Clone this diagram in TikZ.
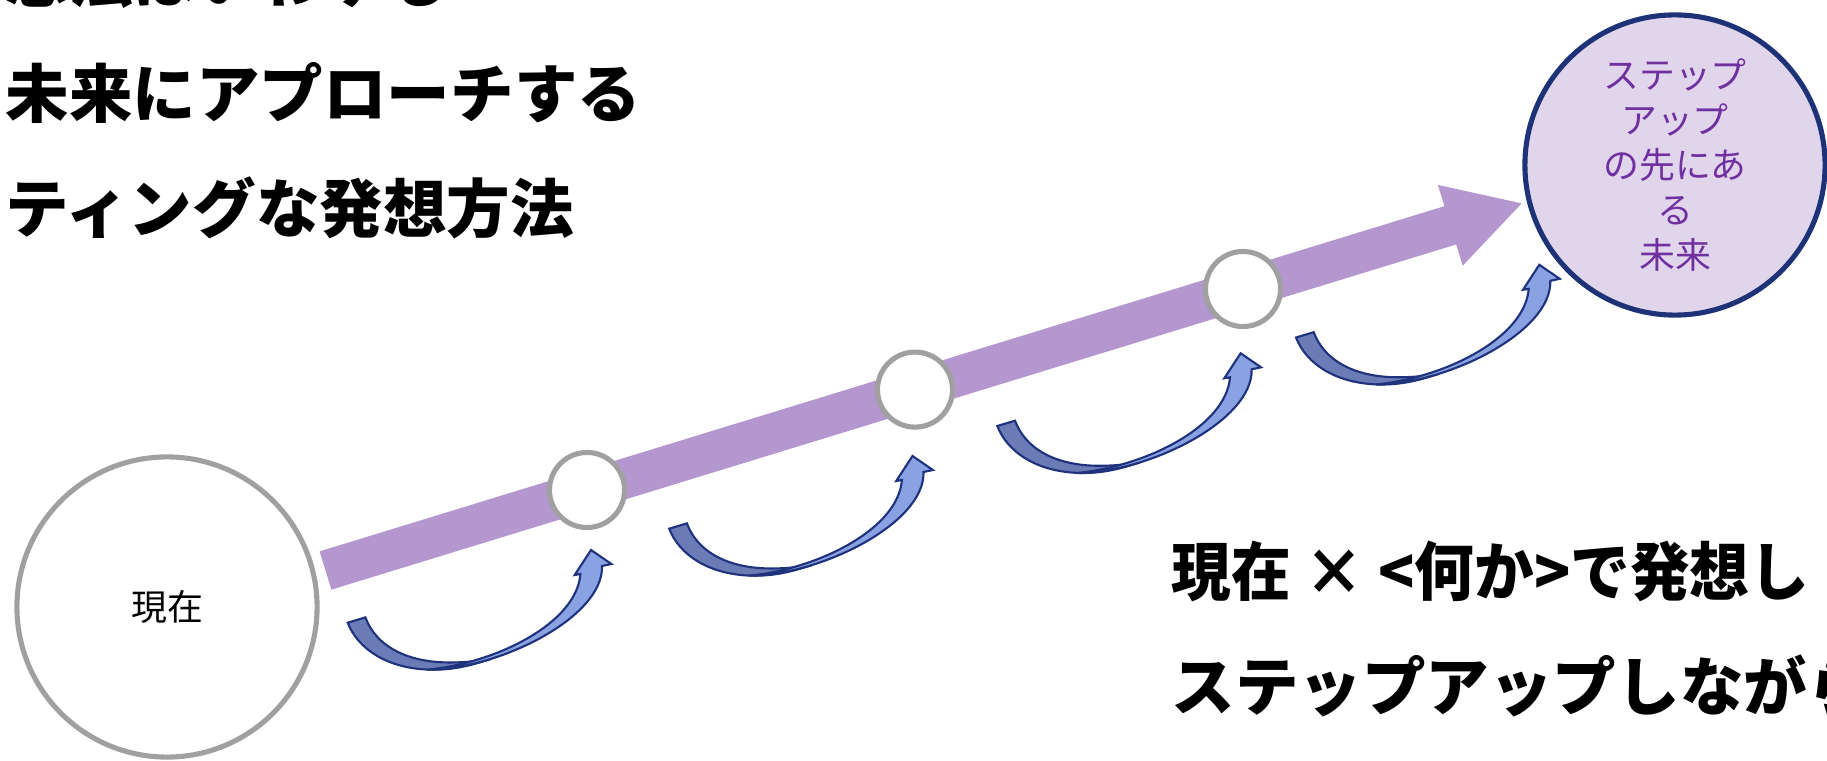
\documentclass[tikz,border=0pt]{standalone}
\usepackage{fontspec}
\usepackage{graphicx}
\newfontfamily\jp{Noto Sans CJK JP}
\usetikzlibrary{arrows.meta}
\definecolor{bandpurple}{RGB}{181,151,207}
\definecolor{ringgray}{RGB}{160,160,160}
\definecolor{futfill}{RGB}{225,213,236}
\definecolor{navy}{RGB}{30,50,120}
\definecolor{futtext}{RGB}{112,48,160}
\definecolor{darkarrow}{RGB}{106,123,182}
\definecolor{lightarrow}{RGB}{139,162,226}
\definecolor{arrowline}{RGB}{30,50,125}
\tikzset{
  bigtext/.style={inner sep=0pt, anchor=base west, font=\jp\bfseries\fontsize{18.07pt}{22pt}\selectfont},
  ringbig/.style={circle, draw=ringgray, line width=1.45pt, fill=white, minimum size=3cm, inner sep=0pt, font=\jp\fontsize{10.2pt}{12pt}\selectfont},
  ringsmall/.style={circle, draw=ringgray, line width=1.45pt, fill=white, minimum size=0.75cm, inner sep=0pt},
  futring/.style={circle, draw=navy, line width=1.45pt, fill=futfill, minimum size=3cm, inner sep=0pt, align=center, text=futtext, font=\jp\fontsize{10.2pt}{12.8pt}\selectfont},
  bandarrow/.style={draw=bandpurple, line width=0.4cm, line cap=butt, -{Triangle[length=0.76cm,width=0.785cm]}},
  darkpart/.style={fill=darkarrow, draw=arrowline, line width=0.6pt, line join=miter},
  lightpart/.style={fill=lightarrow, draw=arrowline, line width=0.6pt, line join=miter},
  curvedup/.pic={
    \filldraw[darkpart] (0,0) .. controls (10,26) and (40,47) .. (86,47)
      .. controls (110,47) and (128,41) .. (143,36.3)
      .. controls (130,38.5) and (112,40.5) .. (92,39.5)
      .. controls (55,37) and (28,22) .. (17.7,-5.3) -- cycle;
    \filldraw[lightpart] (80,47) .. controls (150,47) and (256,-5) .. (254.3,-56.7)
      -- (263.7,-58.7) -- (243.3,-72.7) -- (227,-47.7) -- (232.7,-48.7)
      .. controls (229,0) and (150,40) .. (80,47) -- cycle;
  }
}
\begin{document}
\begin{tikzpicture}[x=0.01cm,y=-0.01cm]
\useasboundingbox (0,0) rectangle (1827,761);
\fill[white] (0,0) rectangle (1827,761);
\clip (0,0) rectangle (1827,761);

% title text (top left)
\node[bigtext] (t1) at (5,3) {想法はいわゆる};
\node[bigtext] (t2) at (5,118) {未来にアプローチする};
\node[bigtext] (t3) at (5,233) {ティングな発想方法};

% main band arrow
\coordinate (bandstart) at (325.5,570.5);
\coordinate (bandtip) at (1523,203);
\draw[bandarrow] (bandstart) -- (bandtip);

% circles
\node[ringbig] (now) at (167,607) {現在};
\node[ringsmall] (s1) at (587,490) {};
\node[ringsmall] (s2) at (915,389.6) {};
\node[ringsmall] (s3) at (1243,289) {};
\node[futring] (fut) at (1675,165) {ステップ\\アップ\\の先にあ\\る\\未来};

% curved step arrows
\pic (c1) at (347.7,622.7) {curvedup};
\pic (c2) at (669.2,528.7) {curvedup};
\pic (c3) at (997.3,426) {curvedup};
\pic (c4) at (1296,337.5) {curvedup};

% bottom right text
\node[bigtext] (b1) at (1171,596) {\scalebox{0.94}[1]{現在 × <何か>で発想し}};
\node[bigtext] (b2) at (1171,710) {ステップアップしながら};
\end{tikzpicture}
\end{document}
